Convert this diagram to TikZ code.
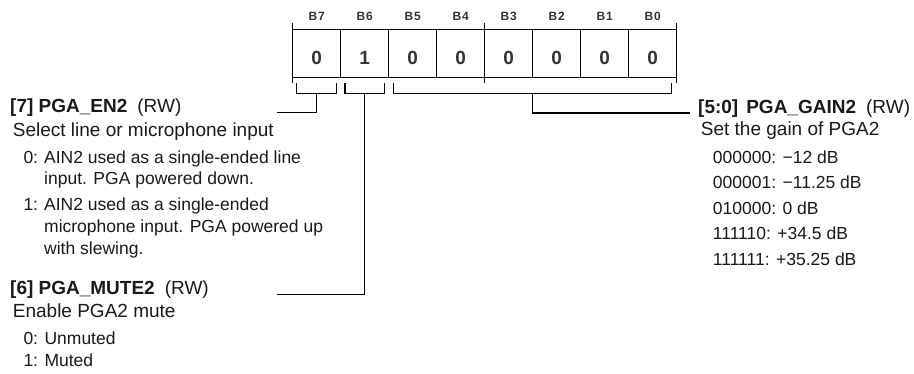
\documentclass[tikz,border=0pt]{standalone}
\usepackage{fontspec}
\setmainfont{Liberation Sans}
\usepackage{tikz}

\tikzset{
  cell/.style={draw, line width=1.2pt, outer sep=0pt, inner sep=0pt,
    minimum width=48pt, minimum height=48.4pt, text height=22pt, text depth=0pt,
    font=\fontsize{19}{19}\selectfont\bfseries, text=black!80},
  bitlbl/.style={inner sep=0pt, font=\fontsize{12}{12}\selectfont\bfseries\addfontfeature{LetterSpace=8}, text=black!80},
  txt/.style={anchor=base west, inner sep=0pt, font=\fontsize{17.5}{21}\selectfont, text=black!90},
  hdr/.style={anchor=base west, inner sep=0pt, font=\fontsize{19}{21}\selectfont, text=black!90},
  wire/.style={line width=1.2pt}
}

\begin{document}
\begin{tikzpicture}[x=1pt, y=-1pt]
    \useasboundingbox (0,0) rectangle (914,373);

    \node[cell] (b7) at (316.7,53.5) {0};
    \node[cell] (b6) at (364.7,53.5) {1};
    \node[cell] (b5) at (412.7,53.5) {0};
    \node[cell] (b4) at (460.7,53.5) {0};
    \node[cell] (b3) at (508.7,53.5) {0};
    \node[cell] (b2) at (556.7,53.5) {0};
    \node[cell] (b1) at (604.7,53.5) {0};
    \node[cell] (b0) at (652.7,53.5) {0};

    \node[bitlbl] (h7) at (316.7,16.2) {B7};
    \node[bitlbl] (h6) at (364.7,16.2) {B6};
    \node[bitlbl] (h5) at (412.7,16.2) {B5};
    \node[bitlbl] (h4) at (460.7,16.2) {B4};
    \node[bitlbl] (h3) at (508.7,16.2) {B3};
    \node[bitlbl] (h2) at (556.7,16.2) {B2};
    \node[bitlbl] (h1) at (604.7,16.2) {B1};
    \node[bitlbl] (h0) at (652.7,16.2) {B0};

    \draw[wire] ([yshift=6.6pt]b7.north west) -- ([yshift=-5.6pt]b7.south west);
    \draw[wire] ([yshift=6.6pt]b3.north west) -- ([yshift=-5.6pt]b3.south west);
    \draw[wire] ([yshift=6.6pt]b0.north east) -- ([yshift=-5.6pt]b0.south east);

    % brackets under the fields
    \draw[wire] (296.7,83.3) -- (296.7,93.3) -- (336.7,93.3) -- (336.7,83.3);
    \draw[wire] (345,83.3) -- (345,93.3) -- (384.3,93.3) -- (384.3,83.3);
    \draw[wire] (393.3,83.3) -- (393.3,93.3) -- (671.7,93.3) -- (671.7,83.3);

    \coordinate (br7) at (316.7,93.3);
    \coordinate (br6) at (364.7,93.3);
    \coordinate (br50) at (532.5,93.3);
    \coordinate (ln7) at (276.7,112.7);
    \coordinate (ln6) at (276.7,294.3);
    \coordinate (ln50) at (690,113);

    \draw[wire] (br7) |- (ln7);
    \draw[wire] (br6) |- (ln6);
    \draw[wire] (br50) |- (ln50);

    % PGA_EN2
    \node[hdr] (en2) at (10,112.5) {\bfseries [7] PGA\_EN2\hspace{10pt}\mdseries(RW)};
    \node[hdr] (en2d) at (12.7,136) {Select line or microphone input};
    \node[txt] (en2k0) at (23.3,163.3) {0:};
    \node[txt] (en2v0a) at (44,163.3) {AIN2 used as a single-ended line};
    \node[txt] (en2v0b) at (44,184.5) {input. PGA powered down.};
    \node[txt] (en2k1) at (23.3,210.5) {1:};
    \node[txt] (en2v1a) at (44,210.5) {AIN2 used as a single-ended};
    \node[txt] (en2v1b) at (44,232) {microphone input. PGA powered up};
    \node[txt] (en2v1c) at (44,254) {with slewing.};

    % PGA_MUTE2
    \node[hdr] (mute2) at (10,294.3) {\bfseries [6] PGA\_MUTE2\hspace{10pt}\mdseries(RW)};
    \node[hdr] (mute2d) at (12.7,317.3) {Enable PGA2 mute};
    \node[txt] (mute2k0) at (23.3,344.3) {0: Unmuted};
    \node[txt] (mute2k1) at (23.3,366.7) {1: Muted};

    % PGA_GAIN2
    \node[hdr] (gain2) at (698,113) {\bfseries [5:0]\hspace{8pt}PGA\_GAIN2\hspace{10pt}\mdseries(RW)};
    \node[hdr] (gain2d) at (700.7,135) {Set the gain of PGA2};
    \node[txt] (gain2v0) at (712.7,163.3) {000000: \textminus12 dB};
    \node[txt] (gain2v1) at (712.7,188.3) {000001: \textminus11.25 dB};
    \node[txt] (gain2v2) at (712.7,214) {010000: 0 dB};
    \node[txt] (gain2v3) at (712.7,239.3) {111110: +34.5 dB};
    \node[txt] (gain2v4) at (712.7,265) {111111: +35.25 dB};
\end{tikzpicture}
\end{document}
